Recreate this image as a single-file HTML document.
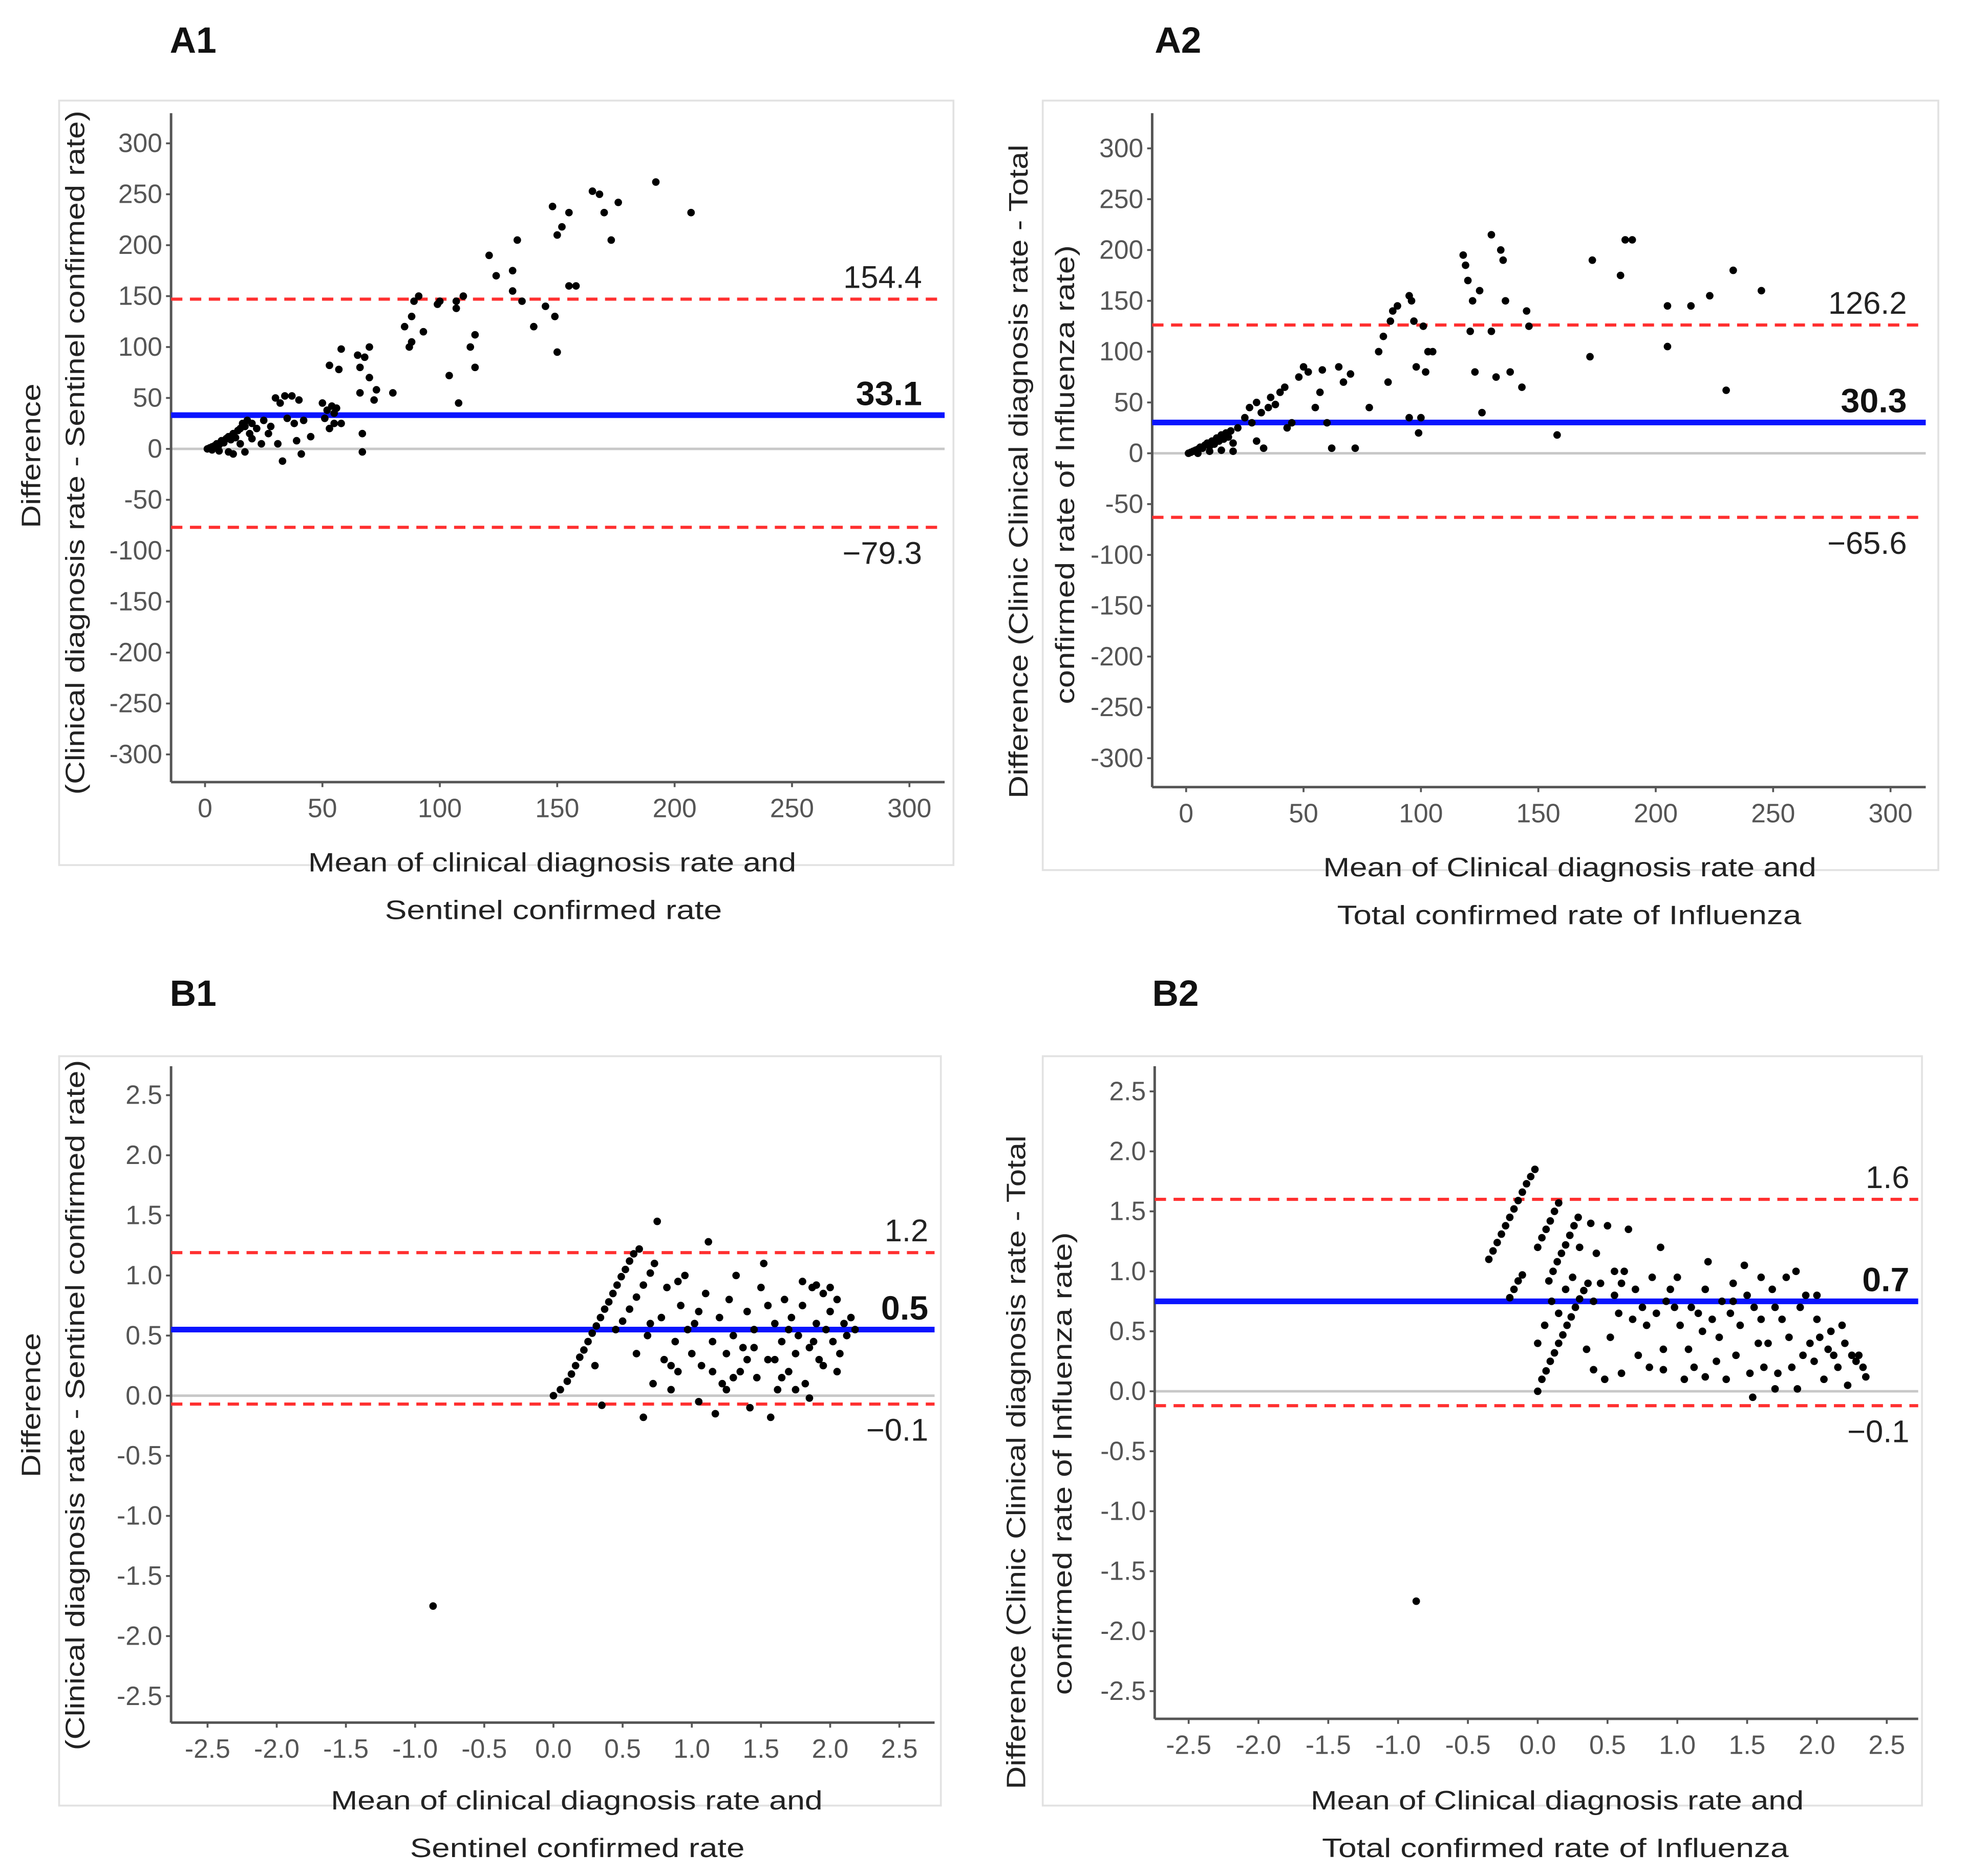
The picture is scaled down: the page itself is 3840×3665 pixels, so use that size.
<!DOCTYPE html>
<html><head><meta charset="utf-8"><style>
html,body{margin:0;padding:0;background:#fff;}
svg{display:block;}
text{font-family:"Liberation Sans",sans-serif;}
</style></head><body>
<svg id="fig" xmlns="http://www.w3.org/2000/svg" width="3840" height="3665" viewBox="0 0 1563 1492" preserveAspectRatio="none"></svg>
<script>
// ---------- DATA ----------
const a1Points = [[1,0],[2,1],[3,2],[4,3],[5,5],[6,4],[7,8],[8,6],[9,10],[10,12],[11,9],[12,15],[13,11],[14,18],[15,20],[16,25],[17,22],[18,28],[19,15],[20,25],[3,-1],[6,-2],[10,-3],[12,-5],[15,5],[17,-3],[20,10],[22,20],[24,5],[25,28],[27,15],[28,22],[30,50],[31,5],[32,45],[33,-12],[34,52],[35,30],[37,52],[38,25],[39,8],[40,48],[41,-5],[42,28],[45,12],[50,45],[51,30],[52,38],[53,20],[54,42],[55,35],[56,40],[57,78],[55,25],[58,25],[53,82],[58,98],[65,92],[66,55],[66,80],[67,15],[67,-3],[68,90],[70,100],[70,70],[72,48],[73,58],[80,55],[85,120],[87,100],[88,105],[88,130],[89,145],[91,150],[93,115],[99,142],[100,145],[104,72],[107,145],[107,138],[108,45],[110,150],[113,100],[115,80],[115,112],[121,190],[124,170],[131,175],[131,155],[133,205],[135,145],[140,120],[145,140],[148,238],[149,130],[150,210],[150,95],[152,218],[155,160],[155,232],[158,160],[165,253],[168,250],[170,232],[173,205],[176,242],[192,262],[207,232]];
const a1Stats = [154.4, 33.1, -79.3];
const a1Lines = [147, 33.1, -77];

const a2Points = [[1,0],[2,1],[3,2],[4,3],[5,4],[6,6],[7,5],[8,8],[9,10],[10,7],[11,12],[12,9],[13,15],[14,12],[15,18],[16,14],[17,20],[18,16],[19,22],[20,10],[5,0],[10,2],[15,3],[20,2],[22,25],[25,35],[27,45],[28,30],[30,12],[30,50],[32,40],[33,5],[35,45],[36,55],[38,48],[40,60],[42,65],[43,25],[45,30],[48,75],[50,85],[52,80],[55,45],[57,60],[58,82],[60,30],[62,5],[65,85],[67,70],[70,78],[72,5],[78,45],[82,100],[84,115],[86,70],[87,130],[88,140],[90,145],[95,35],[95,155],[96,150],[97,130],[98,85],[99,20],[100,35],[101,125],[102,80],[103,100],[105,100],[118,195],[119,185],[120,170],[121,120],[122,150],[123,80],[125,160],[126,40],[130,215],[130,120],[132,75],[134,200],[135,190],[136,150],[138,80],[143,65],[145,140],[146,125],[158,18],[172,95],[173,190],[185,175],[187,210],[190,210],[205,145],[205,105],[215,145],[223,155],[230,62],[233,180],[245,160]];
const a2Stats = [126.2, 30.3, -65.6];
const a2Lines = [126.2, 30.3, -63];

const b1Points = [[0,0],[0.1,0.12],[0.13,0.18],[0.16,0.25],[0.19,0.32],[0.22,0.38],[0.25,0.45],[0.28,0.52],[0.31,0.58],[0.34,0.65],[0.37,0.72],[0.40,0.78],[0.43,0.85],[0.46,0.92],[0.49,0.99],[0.52,1.05],[0.55,1.12],[0.58,1.18],[0.45,0.55],[0.5,0.62],[0.55,0.72],[0.6,0.82],[0.65,0.92],[0.7,1.02],[0.73,1.1],[0.62,1.22],[0.05,0.05],[0.3,0.25],[0.35,-0.08],[0.6,0.35],[0.65,-0.18],[0.68,0.5],[0.72,0.1],[0.75,1.45],[0.78,0.65],[0.8,0.3],[0.82,0.9],[0.85,0.05],[0.88,0.45],[0.9,0.2],[0.92,0.75],[0.95,1.0],[0.97,0.55],[1.0,0.35],[1.02,0.6],[1.05,-0.05],[1.07,0.25],[1.1,0.85],[1.12,1.28],[1.15,0.45],[1.17,-0.15],[1.2,0.65],[1.22,0.1],[1.25,0.35],[1.27,0.8],[1.3,0.5],[1.32,1.0],[1.35,0.2],[1.37,0.4],[1.4,0.7],[1.42,-0.1],[1.45,0.55],[1.47,0.15],[1.5,0.9],[1.52,1.1],[1.55,0.3],[1.57,-0.18],[1.6,0.6],[1.62,0.05],[1.65,0.45],[1.67,0.8],[1.7,0.2],[1.72,0.65],[1.75,0.35],[1.77,0.5],[1.8,0.75],[1.82,0.1],[1.85,0.4],[1.87,0.9],[1.9,0.6],[1.92,0.3],[1.95,0.85],[1.97,0.55],[2.0,0.7],[2.02,0.45],[2.05,0.8],[2.07,0.35],[2.1,0.6],[2.12,0.5],[2.15,0.65],[2.18,0.55],[1.65,0.15],[1.75,0.05],[1.85,-0.02],[1.95,0.25],[2.0,0.9],[1.9,0.92],[1.8,0.95],[0.9,0.95],[1.05,0.7],[1.15,0.2],[1.3,0.15],[1.45,0.4],[1.55,0.75],[1.6,0.3],[1.7,0.55],[1.88,0.45],[2.05,0.2],[1.4,0.3],[0.7,0.6],[0.85,0.25],[1.25,0.05]];
const b1Stats = [1.2, 0.5, -0.1];
const b1Lines = [1.19, 0.55, -0.07];

const b2Points = [[-0.35,1.1],[-0.32,1.17],[-0.29,1.24],[-0.26,1.31],[-0.23,1.38],[-0.2,1.45],[-0.17,1.52],[-0.14,1.59],[-0.11,1.66],[-0.08,1.73],[-0.05,1.79],[-0.02,1.85],[-0.2,0.78],[-0.17,0.85],[-0.14,0.92],[-0.11,0.97],[0,1.2],[0.03,1.28],[0.06,1.35],[0.09,1.42],[0.12,1.5],[0.15,1.57],[0.08,0.92],[0.11,1.0],[0.14,1.08],[0.17,1.15],[0.2,1.22],[0.23,1.3],[0.26,1.38],[0.29,1.45],[0,0.0],[0.03,0.1],[0.06,0.17],[0.09,0.25],[0.12,0.32],[0.15,0.4],[0.18,0.47],[0.21,0.55],[0.24,0.62],[0.27,0.7],[0.3,0.77],[0.33,0.84],[0.36,0.9],[0.0,0.4],[0.05,0.55],[0.1,0.75],[0.15,0.65],[0.2,0.85],[0.25,0.95],[0.3,1.2],[0.35,0.35],[0.38,1.4],[0.4,0.18],[0.42,1.15],[0.45,0.9],[0.48,0.1],[0.5,1.38],[0.52,0.45],[0.55,1.0],[0.58,0.65],[0.6,0.15],[0.62,1.0],[0.65,1.35],[0.68,0.6],[0.7,0.85],[0.72,0.3],[0.75,0.7],[0.78,0.55],[0.8,0.2],[0.82,0.95],[0.85,0.65],[0.88,1.2],[0.9,0.35],[0.92,0.75],[0.95,0.85],[0.98,0.7],[1.0,0.95],[1.02,0.55],[1.05,0.1],[1.08,0.35],[1.1,0.7],[1.12,0.2],[1.15,0.65],[1.18,0.5],[1.2,0.85],[1.22,1.08],[1.25,0.6],[1.28,0.25],[1.3,0.45],[1.32,0.75],[1.35,0.1],[1.38,0.65],[1.4,0.9],[1.42,0.3],[1.45,0.55],[1.48,1.05],[1.5,0.8],[1.52,0.15],[1.54,-0.05],[1.55,0.7],[1.58,0.4],[1.6,0.6],[1.62,0.2],[1.65,0.4],[1.68,0.85],[1.7,0.7],[1.72,0.15],[1.75,0.6],[1.78,0.95],[1.8,0.45],[1.82,0.2],[1.85,1.0],[1.86,0.02],[1.88,0.7],[1.9,0.3],[1.92,0.8],[1.95,0.4],[1.98,0.25],[2.0,0.6],[2.02,0.45],[2.05,0.1],[2.08,0.35],[2.1,0.5],[2.12,0.3],[2.15,0.2],[2.18,0.55],[2.2,0.4],[2.22,0.05],[2.25,0.3],[2.28,0.25],[2.3,0.3],[2.33,0.2],[2.35,0.12],[1.7,0.02],[1.2,0.12],[0.9,0.18],[1.6,0.95],[1.4,0.75],[2.0,0.8],[0.6,0.9],[0.4,0.75],[0.55,0.8]];
const b2Stats = [1.6, 0.7, -0.1];
const b2Lines = [1.6, 0.75, -0.12];

const outlierB = [[-0.87,-1.75]];

const aTicksX = [0,50,100,150,200,250,300];
const aTicksY = [300,250,200,150,100,50,0,-50,-100,-150,-200,-250,-300];
const bTicksX = [-2.5,-2.0,-1.5,-1.0,-0.5,0.0,0.5,1.0,1.5,2.0,2.5];
const bTicksY = [2.5,2.0,1.5,1.0,0.5,0.0,-0.5,-1.0,-1.5,-2.0,-2.5];

// ---------- DRAW ----------
const NS = "http://www.w3.org/2000/svg";
const svg = document.getElementById('fig');
function mk(tag, attrs, parent, txt){
  const e = document.createElementNS(NS, tag);
  for (const k in attrs) e.setAttribute(k, attrs[k]);
  if (txt !== undefined) e.textContent = txt;
  (parent||svg).appendChild(e);
  return e;
}
function panel(cfg){
  const g = mk('g', {});
  
  
  const sx = v => cfg.x0 + (v - cfg.dx0) * (cfg.x1 - cfg.x0) / (cfg.dx1 - cfg.dx0);
  const sy = v => cfg.y0 + (v - cfg.dy0) * (cfg.y1 - cfg.y0) / (cfg.dy1 - cfg.dy0);
  const frame = mk('rect', {x:cfg.fx0, y:cfg.fy0, width:cfg.fx1-cfg.fx0, height:cfg.fy1-cfg.fy0, fill:'none', stroke:'#e2e2e2', 'stroke-width':1.5}, g);
  
  
  const t = mk('text', {x:cfg.tx, y:cfg.ty, 'font-size':29, 'font-weight':'bold', fill:'#111'}, g, cfg.id);
  
  
  const z = mk('line', {x1:cfg.ax, x2:cfg.pr, y1:sy(0), y2:sy(0), stroke:'#c8c8c8', 'stroke-width':2}, g);
  
  
  const ya = mk('line', {x1:cfg.ax, x2:cfg.ax, y1:cfg.pt, y2:cfg.ab, stroke:'#555', 'stroke-width':2}, g);
  
  
  const xa = mk('line', {x1:cfg.ax, x2:cfg.pr, y1:cfg.ab, y2:cfg.ab, stroke:'#555', 'stroke-width':2}, g);
  
  
  cfg.ticksY.forEach(v => {
    mk('line', {x1:cfg.ax-4, x2:cfg.ax, y1:sy(v), y2:sy(v), stroke:'#555', 'stroke-width':1.5}, g);
    const l = mk('text', {x:cfg.ax-7, y:sy(v)+7, 'font-size':21, fill:'#555', 'text-anchor':'end'}, g, cfg.fmt(v));
    
    
  });
  cfg.ticksX.forEach(v => {
    mk('line', {x1:sx(v), x2:sx(v), y1:cfg.ab, y2:cfg.ab+4, stroke:'#555', 'stroke-width':1.5}, g);
    const l = mk('text', {x:sx(v), y:cfg.ab+28, 'font-size':21, fill:'#555', 'text-anchor':'middle'}, g, cfg.fmt(v));
    
    
  });
  const up = mk('line', {x1:cfg.ax, x2:cfg.pr, y1:sy(cfg.lines[0]), y2:sy(cfg.lines[0]), stroke:'#ff3030', 'stroke-width':2.5, 'stroke-dasharray':'9,6'}, g);
  
  
  const lo = mk('line', {x1:cfg.ax, x2:cfg.pr, y1:sy(cfg.lines[2]), y2:sy(cfg.lines[2]), stroke:'#ff3030', 'stroke-width':2.5, 'stroke-dasharray':'9,6'}, g);
  
  
  const mn = mk('line', {x1:cfg.ax, x2:cfg.pr, y1:sy(cfg.lines[1]), y2:sy(cfg.lines[1]), stroke:'#0a14ff', 'stroke-width':4.5}, g);
  
  
  cfg.points.forEach(p => {
    const c = mk('circle', {cx:sx(p[0]), cy:sy(p[1]), r:3, fill:'#000'}, g);
    
    
  });
  const lx = cfg.labelX;
  const s0 = mk('text', {x:lx, y:sy(cfg.lines[0])-9, 'font-size':25, fill:'#222', 'text-anchor':'end'}, g, cfg.fmtS(cfg.stats[0]));
  
  
  const s1 = mk('text', {x:lx, y:sy(cfg.lines[1])-8, 'font-size':27, 'font-weight':'bold', fill:'#111', 'text-anchor':'end'}, g, cfg.fmtS(cfg.stats[1]));
  
  
  const s2 = mk('text', {x:lx, y:sy(cfg.lines[2])+29, 'font-size':25, fill:'#222', 'text-anchor':'end'}, g, cfg.fmtS(cfg.stats[2]).replace('-', '\u2212'));
  
  
  cfg.xt.forEach((l, i) => {
    const e = mk('text', {x:(l[0]+l[1])/2, y:l[2], 'font-size':21, fill:'#222', 'text-anchor':'middle', textLength:l[1]-l[0], lengthAdjust:'spacingAndGlyphs'}, g, l[3]);
    
    
  });
  cfg.yt.forEach(l => {
    const cy = (l[1]+l[2])/2;
    const e = mk('text', {x:l[0], y:cy, 'font-size':21, fill:'#222', 'text-anchor':'middle', transform:'rotate(-90 '+l[0]+' '+cy+')', textLength:l[2]-l[1], lengthAdjust:'spacingAndGlyphs'}, g, l[3]);
    
    
  });
}
const fA = v => String(v);
const fB = v => v.toFixed(1);
const fS = v => String(v);

panel({id:'A1', tx:135, ty:42, fx0:47, fy0:80, fx1:758, fy1:688,
  x0:163, x1:723, dx0:0, dx1:300, y0:114, y1:600, dy0:300, dy1:-300,
  ax:136, ab:622, pt:90, pr:751, ticksX:aTicksX, ticksY:aTicksY, fmt:fA,
  points:a1Points, lines:a1Lines, stats:a1Stats, fmtS:fS, labelX:733,
  xt:[[245,633,693,'Mean of clinical diagnosis rate and'],[306,574,731,'Sentinel confirmed rate']],
  yt:[[32,305,420,'Difference'],[67,88,632,'(Clinical diagnosis rate - Sentinel confirmed rate)']]});

panel({id:'A2', tx:918, ty:42, fx0:829, fy0:80, fx1:1541, fy1:692,
  x0:943, x1:1503, dx0:0, dx1:300, y0:118, y1:603, dy0:300, dy1:-300,
  ax:916, ab:626, pt:90, pr:1531, ticksX:aTicksX, ticksY:aTicksY, fmt:fA,
  points:a2Points, lines:a2Lines, stats:a2Stats, fmtS:fS, labelX:1516,
  xt:[[1052,1444,697,'Mean of Clinical diagnosis rate and'],[1063,1432,735,'Total confirmed rate of Influenza']],
  yt:[[817,115,635,'Difference (Clinic Clinical diagnosis rate - Total'],[854,195,560,'confirmed rate of Influenza rate)']]});

panel({id:'B1', tx:135, ty:800, fx0:47, fy0:840, fx1:748, fy1:1436,
  x0:165, x1:715, dx0:-2.5, dx1:2.5, y0:871, y1:1349, dy0:2.5, dy1:-2.5,
  ax:136, ab:1370, pt:848, pr:743, ticksX:bTicksX, ticksY:bTicksY, fmt:fB,
  points:b1Points.concat(outlierB), lines:b1Lines, stats:b1Stats, fmtS:fS, labelX:738,
  xt:[[263,654,1439,'Mean of clinical diagnosis rate and'],[326,592,1477,'Sentinel confirmed rate']],
  yt:[[32,1060,1175,'Difference'],[67,843,1392,'(Clinical diagnosis rate - Sentinel confirmed rate)']]});

panel({id:'B2', tx:916, ty:800, fx0:829, fy0:840, fx1:1528, fy1:1436,
  x0:945, x1:1500, dx0:-2.5, dx1:2.5, y0:868, y1:1345, dy0:2.5, dy1:-2.5,
  ax:918, ab:1367, pt:848, pr:1525, ticksX:bTicksX, ticksY:bTicksY, fmt:fB,
  points:b2Points.concat(outlierB), lines:b2Lines, stats:b2Stats, fmtS:fS, labelX:1518,
  xt:[[1042,1434,1439,'Mean of Clinical diagnosis rate and'],[1051,1422,1477,'Total confirmed rate of Influenza']],
  yt:[[815,903,1423,'Difference (Clinic Clinical diagnosis rate - Total'],[852,980,1348,'confirmed rate of Influenza rate)']]});
</script>
</body></html>
